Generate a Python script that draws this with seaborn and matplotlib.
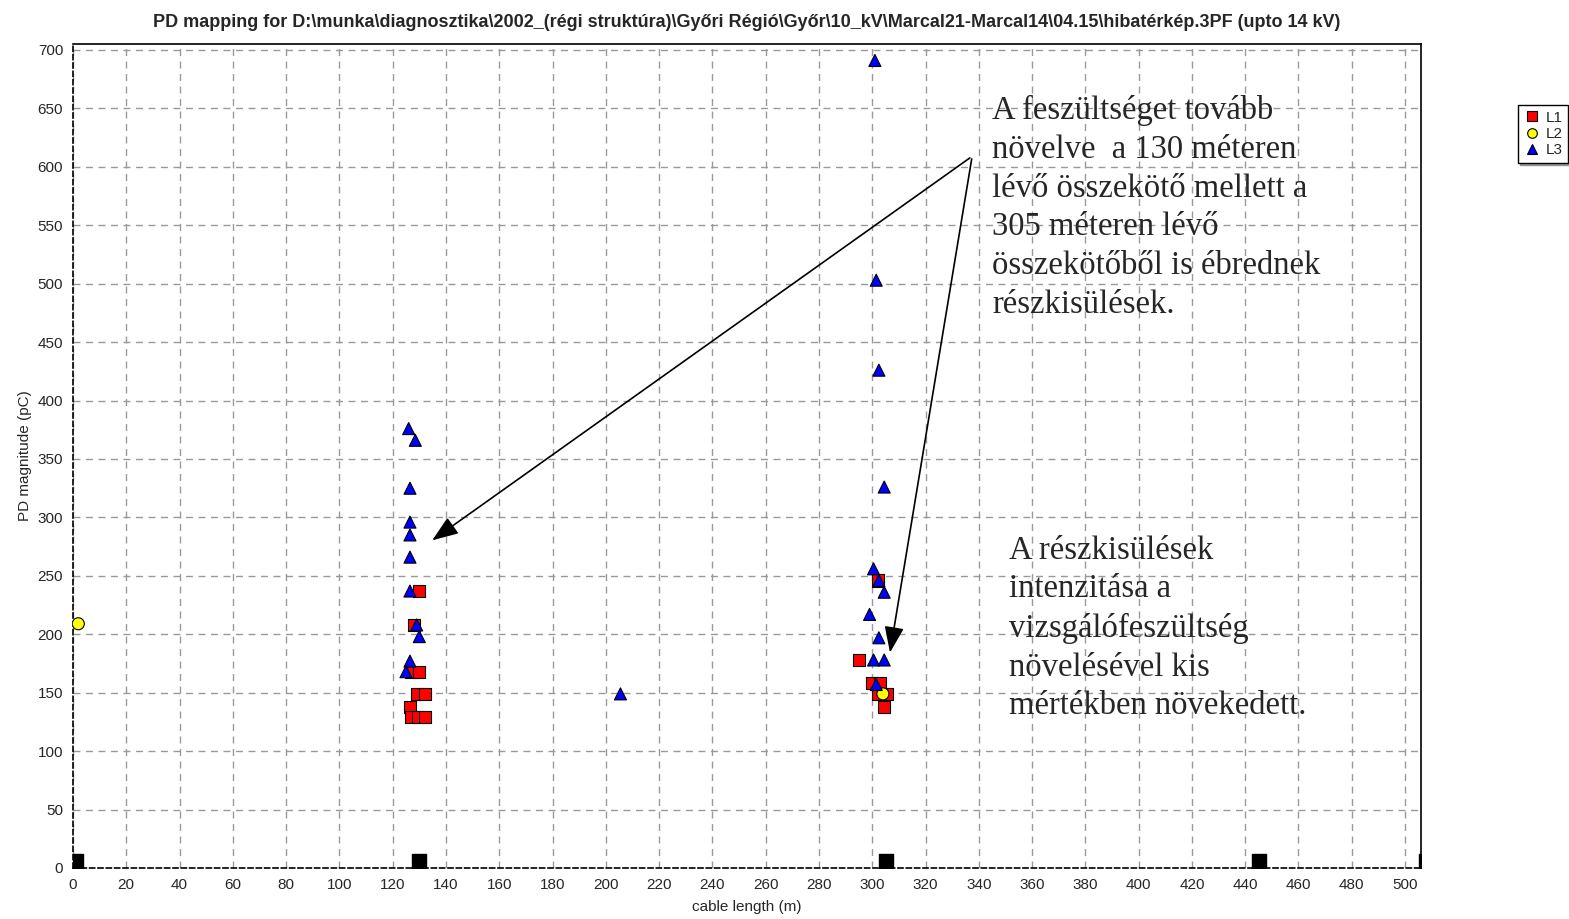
import pandas as pd
import seaborn as sns
import matplotlib.pyplot as plt
from matplotlib.ticker import MultipleLocator

# Adatok
l1_x = [130, 128, 127, 130, 129, 132, 126.5, 127, 129.5, 132,
        295, 302, 300, 303, 302, 305.5, 304.5]
l1_y = [237, 208, 168, 168, 149, 149, 138, 129, 129, 129,
        178, 246, 158, 158, 149, 149, 138]
l2_x = [2, 304]
l2_y = [209, 149]
l3_x = [126, 128.5, 126.5, 126.5, 126.5, 126.5, 126.5, 129, 130, 126.5, 125,
        205.5,
        301, 301.5, 302.5, 304.5, 300.5, 302.5, 304.5, 299, 302.5, 300.5, 304.5, 301.5]
l3_y = [376, 366, 325, 296, 285, 266, 237, 208, 198, 177, 168,
        149,
        691, 503, 426, 326, 256, 246, 236, 217, 197, 178, 178, 157]
kotes_x = [1, 130, 305, 445, 508]
kotes_y = [6, 6, 6, 6, 6]

df = pd.DataFrame({
    'x': l1_x + l2_x + l3_x,
    'y': l1_y + l2_y + l3_y,
    'fazis': ['L1'] * len(l1_x) + ['L2'] * len(l2_x) + ['L3'] * len(l3_x),
})

sns.set_style("white")
plt.rcParams['font.family'] = ['Liberation Sans', 'DejaVu Sans']

fig = plt.figure(figsize=(15.69, 9.19), dpi=100)
ax = fig.add_axes([0.0465, 0.0555, 0.8592, 0.8965])

# kötések (fekete négyzetek az x tengelyen)
ax.scatter(kotes_x, kotes_y, marker='s', s=90, color='black', zorder=3, clip_on=True)

sns.scatterplot(data=df, x='x', y='y', hue='fazis', style='fazis',
                palette={'L1': 'red', 'L2': 'yellow', 'L3': 'blue'},
                markers={'L1': 's', 'L2': 'o', 'L3': '^'},
                s=75, edgecolor='black', linewidth=0.8, ax=ax, zorder=4)

ax.set_xlim(0, 506)
ax.set_ylim(0, 705)
ax.xaxis.set_major_locator(MultipleLocator(20))
ax.xaxis.set_minor_locator(MultipleLocator(4))
ax.yaxis.set_major_locator(MultipleLocator(50))
ax.yaxis.set_minor_locator(MultipleLocator(10))
ax.tick_params(which='major', direction='inout', length=7, width=1, labelsize=11, color='#333333')
ax.tick_params(which='minor', direction='inout', length=4, width=0.8, color='#333333')
ax.grid(True, which='major', linestyle=(0, (5, 4)), color='#999999', linewidth=1)
for sp in ax.spines.values():
    sp.set_color('black')
    sp.set_linewidth(1.2)
ax.spines['left'].set_linestyle((0, (3, 2)))
ax.spines['bottom'].set_linestyle((0, (3, 2)))

ax.set_xlabel('cable length (m)', fontsize=11, labelpad=6)
ax.set_ylabel('PD magnitude (pC)', fontsize=11)
ax.set_title('PD mapping for D:\\munka\\diagnosztika\\2002_(régi struktúra)\\Győri Régió\\Győr\\10_kV\\'
             'Marcal21-Marcal14\\04.15\\hibatérkép.3PF (upto 14 kV)',
             fontsize=13, fontweight='bold', pad=12)

# magyarázó szövegek
ax.text(0.682, 0.938,
        'A feszültséget tovább\nnövelve  a 130 méteren\nlévő összekötő mellett a\n'
        '305 méteren lévő\nösszekötőből is ébrednek\nrészkisülések.',
        transform=ax.transAxes, family=['Liberation Serif', 'DejaVu Serif'],
        fontsize=23.5, va='top', ha='left', linespacing=1.35, zorder=5)
ax.text(0.694, 0.404,
        'A részkisülések\nintenzitása a\nvizsgálófeszültség\nnövelésével kis\n'
        'mértékben növekedett.',
        transform=ax.transAxes, family=['Liberation Serif', 'DejaVu Serif'],
        fontsize=23.5, va='top', ha='left', linespacing=1.35, zorder=5)

arrow = dict(arrowstyle='-|>,head_length=1.6,head_width=0.6', color='black', lw=1.2)
ax.annotate('', xy=(134, 279), xytext=(337.5, 609), arrowprops=arrow)
ax.annotate('', xy=(306.5, 182), xytext=(337.5, 609), arrowprops=arrow)

leg = ax.legend(loc='upper left', bbox_to_anchor=(1.066, 0.935), frameon=True,
                fancybox=False, shadow=True, edgecolor='black', fontsize=11,
                handletextpad=0.3, borderpad=0.35, labelspacing=0.15, title=None,
                markerscale=0.8, handlelength=1.2)

fig.savefig('out.png', dpi=100)
